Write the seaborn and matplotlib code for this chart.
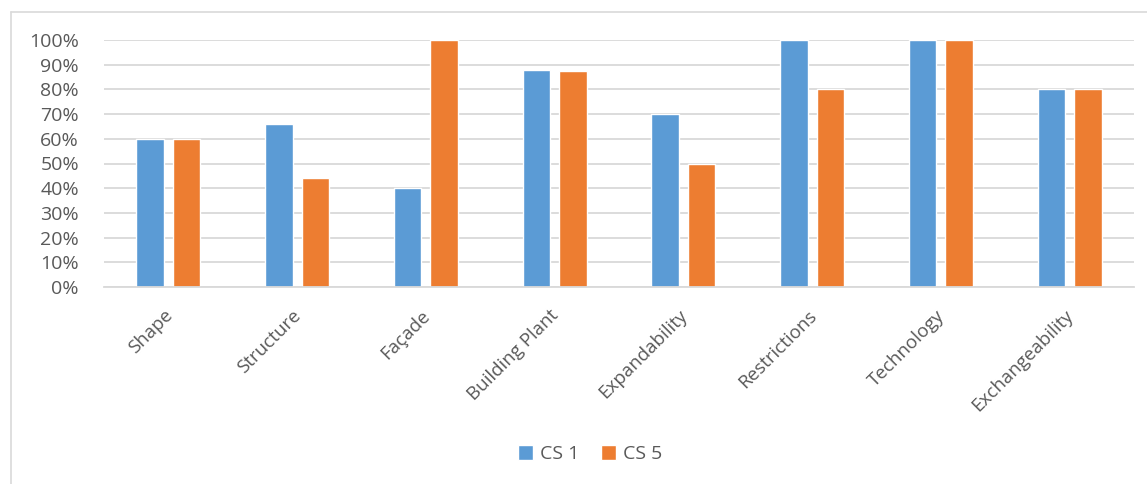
import pandas as pd
import matplotlib
matplotlib.use("Agg")
import matplotlib.pyplot as plt
import matplotlib.transforms as mtransforms
from matplotlib.lines import Line2D
from matplotlib.ticker import PercentFormatter
import seaborn as sns

# Data (percent)
categories = ['Shape', 'Structure', 'Façade', 'Building Plant', 'Expandability',
              'Restrictions', 'Technology', 'Exchangeability']
cs1 = [60, 66, 40, 88, 70, 100, 100, 80]
cs5 = [60, 44, 100, 87.5, 50, 80, 100, 80]
series_names = ['CS 1', 'CS 5']
colors = ['#5B9BD5', '#ED7D31']

# Long format for seaborn
df = pd.DataFrame({
    'Category': categories * 2,
    'Series': [series_names[0]] * len(categories) + [series_names[1]] * len(categories),
    'Value': cs1 + cs5,
})

sns.set_theme(style="white")
plt.rcParams['font.family'] = ['Open Sans', 'DejaVu Sans']
text_color = '#595959'
grid_color = '#D9D9D9'

fig = plt.figure(figsize=(11.47, 4.84), dpi=100)
ax = fig.add_axes([104 / 1147, 1 - 287 / 484, (1134 - 104) / 1147, (287 - 40) / 484])

sns.barplot(data=df, x='Category', y='Value', hue='Series', order=categories,
            hue_order=series_names, palette=colors, width=0.57, gap=0.25,
            saturation=1, ax=ax, legend=True)

ax.set_ylim(0, 100)
ax.set_xlim(-0.5, len(categories) - 0.5)
ax.set_yticks(range(0, 101, 10))
ax.yaxis.set_major_formatter(PercentFormatter(decimals=0))
ax.yaxis.grid(True, color=grid_color, linewidth=1.3)
ax.set_axisbelow(True)
ax.set_xlabel('')
ax.set_ylabel('')
for side in ['top', 'right', 'left']:
    ax.spines[side].set_visible(False)
ax.spines['bottom'].set_color(grid_color)
ax.spines['bottom'].set_linewidth(1.3)

ax.tick_params(axis='y', length=0, pad=18, labelsize=14, labelcolor=text_color)
ax.tick_params(axis='x', length=0, pad=14, labelsize=13.5, labelcolor=text_color)
shift = mtransforms.ScaledTranslation(-5 / 100, 0, fig.dpi_scale_trans)
for lbl in ax.get_xticklabels():
    lbl.set_rotation(45)
    lbl.set_ha('right')
    lbl.set_va('top')
    lbl.set_rotation_mode('anchor')
    lbl.set_transform(lbl.get_transform() + shift)

ax.legend(loc='center', bbox_to_anchor=(590 / 1147, 1 - 454 / 484),
          bbox_transform=fig.transFigure, ncol=2, frameon=False,
          fontsize=14, labelcolor=text_color, handlelength=0.8, handleheight=0.8,
          handletextpad=0.35, columnspacing=1.1)

# light chart border (left and top edges visible)
fig.add_artist(Line2D([11 / 1147, 11 / 1147], [0, 1 - 11.5 / 484],
                      transform=fig.transFigure, color=grid_color, linewidth=1.2))
fig.add_artist(Line2D([11 / 1147, 1], [1 - 11.5 / 484, 1 - 11.5 / 484],
                      transform=fig.transFigure, color=grid_color, linewidth=1.2))

fig.savefig('out.png', dpi=100, facecolor='white')
